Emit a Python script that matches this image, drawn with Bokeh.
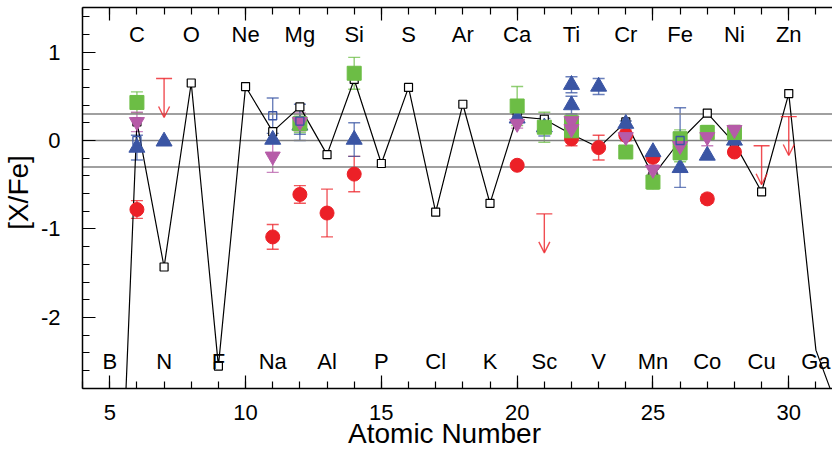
import math
from bokeh.plotting import figure
from bokeh.models import (Range1d, Whisker, TeeHead, OpenHead, Arrow, ColumnDataSource,
                          LinearAxis, SingleIntervalTicker, CustomJSTickFormatter)
from bokeh.core.properties import value
from bokeh.embed import file_html
from bokeh.resources import INLINE

FONT = "Liberation Sans"

# ---------------- data ----------------
top_z = [6, 8, 10, 12, 14, 16, 18, 20, 22, 24, 26, 28, 30]
top_names = ["C", "O", "Ne", "Mg", "Si", "S", "Ar", "Ca", "Ti", "Cr", "Fe", "Ni", "Zn"]
bot_z = [5, 7, 9, 11, 13, 15, 17, 19, 21, 23, 25, 27, 29, 31]
bot_names = ["B", "N", "F", "Na", "Al", "P", "Cl", "K", "Sc", "V", "Mn", "Co", "Cu", "Ga"]

x_ticks = [5, 10, 15, 20, 25, 30]
x_tick_labels = ["5", "10", "15", "20", "25", "30"]
y_ticks = [-2, -1, 0, 1]
y_tick_labels = ["-2", "-1", "0", "1"]

# model yields (black open squares joined by a line)
model_z = [5, 6, 7, 8, 9, 10, 11, 12, 13, 14, 15, 16, 17, 18, 19, 20, 21, 22, 23,
           24, 25, 26, 27, 28, 29, 30, 31, 32]
model_val = [-7.3, 0.21, -1.43, 0.65, -2.55, 0.61, 0.10, 0.38, -0.16, 0.69, -0.26,
             0.60, -0.81, 0.41, -0.71, 0.27, 0.24, 0.07, -0.08, 0.21, -0.40, 0.00,
             0.31, -0.03, -0.58, 0.53, -2.37, -3.2]
model_marked = [z <= 30 for z in model_z]

# green filled squares
green_z = [6, 12, 14, 20, 21, 22, 22, 24, 25, 26, 26, 27, 28]
green_val = [0.43, 0.19, 0.76, 0.39, 0.15, 0.20, 0.11, -0.13, -0.47, 0.02, -0.14, 0.09, 0.09]
green_err = [0.12, 0.10, 0.18, 0.22, 0.17, 0.08, 0.08, 0.0, 0.08, 0.10, 0.10, 0.08, 0.08]

# blue filled triangles
blue_z = [6, 7, 11, 12, 14, 20, 21, 22, 22, 23, 24, 25, 26, 27, 28]
blue_val = [-0.08, -0.01, 0.01, 0.17, 0.01, 0.25, 0.15, 0.63, 0.40, 0.61, 0.19, -0.13,
            -0.31, -0.17, 0.00]
blue_err = [0.14, 0.0, 0.0, 0.10, 0.19, 0.05, 0.10, 0.09, 0.10, 0.09, 0.03, 0.0, 0.0,
            0.0, 0.03]

# magenta inverted triangles
mag_z = [6, 11, 12, 20, 22, 22, 24, 25, 26, 27, 28]
mag_val = [0.21, -0.18, 0.21, 0.19, 0.22, 0.13, 0.04, -0.33, -0.06, 0.04, 0.12]
mag_err = [0.11, 0.18, 0.10, 0.05, 0.05, 0.05, 0.04, 0.05, 0.15, 0.10, 0.05]

# red filled circles
red_z = [6, 11, 12, 13, 14, 20, 22, 23, 24, 25, 27, 28]
red_val = [-0.78, -1.09, -0.61, -0.82, -0.38, -0.28, 0.02, -0.08, 0.06, -0.19, -0.66, -0.13]
red_err = [0.10, 0.14, 0.10, 0.27, 0.20, 0.0, 0.08, 0.14, 0.06, 0.0, 0.05, 0.0]

# red upper limits
lim_z = [7, 21, 29, 30]
lim_val = [0.70, -0.83, -0.06, 0.27]
lim_len = 0.44

# blue open squares
bsq_z = [6, 11, 12, 26]
bsq_val = [0.00, 0.28, 0.22, 0.00]
bsq_lo = [0.0, 0.20, 0.22, 0.53]
bsq_hi = [0.0, 0.20, 0.19, 0.37]

ref_lines = [0.3, 0.0, -0.3]

GREEN = "#6cbd45"
BLUE = "#3a55a4"
MAG = "#b65ba8"
RED = "#ec2027"

# ---------------- geometry (whole canvas is the plotting frame) ----------------
W, H = 832, 449
AX_X0, AX_X1 = 4.0, 31.7           # axis bounds (x)
AX_Y0, AX_Y1 = -2.8, 1.5           # axis bounds (y)
LEFT_PX = 82.1                     # canvas px of x = AX_X0
PXX = 27.16                        # px per unit of atomic number
TOP_PX = 7.3                       # canvas px of y = AX_Y1
BOTTOM_PX = 387.7                  # canvas px of y = AX_Y0
PXY = (BOTTOM_PX - TOP_PX) / (AX_Y1 - AX_Y0)
x_start = AX_X0 - LEFT_PX / PXX
x_end = x_start + W / PXX
y_end = AX_Y1 + TOP_PX / PXY
y_start = y_end - H / PXY

def xpx(c):
    return x_start + c / PXX

def ypx(c):
    return y_end - c / PXY

p = figure(width=W, height=H, x_range=Range1d(x_start, x_end), y_range=Range1d(y_start, y_end),
           output_backend="svg", toolbar_location=None, x_axis_location=None,
           y_axis_location=None, min_border=0, min_border_left=0, min_border_right=0,
           min_border_top=0, min_border_bottom=0)
p.grid.visible = False
p.outline_line_color = None
p.background_fill_color = "white"
p.border_fill_color = "white"

blank = CustomJSTickFormatter(code="return ''")

def make_axis(ticker, loc, bounds):
    ax = LinearAxis(ticker=ticker, fixed_location=loc, bounds=bounds, formatter=blank)
    ax.major_tick_in = 13
    ax.major_tick_out = 0
    ax.minor_tick_in = 7
    ax.minor_tick_out = 0
    ax.major_tick_line_color = "black"
    ax.minor_tick_line_color = "black"
    ax.major_tick_line_width = 1.2
    ax.minor_tick_line_width = 1.2
    ax.axis_line_color = "black"
    ax.axis_line_width = 1.5
    ax.major_label_text_font_size = "0px"
    ax.major_label_standoff = 0
    return ax

xt = SingleIntervalTicker(interval=5, num_minor_ticks=5)
yt = SingleIntervalTicker(interval=1, num_minor_ticks=5)
p.add_layout(make_axis(xt, AX_Y0, (AX_X0, AX_X1)), "below")
p.add_layout(make_axis(xt, AX_Y1, (AX_X0, AX_X1)), "above")
p.add_layout(make_axis(yt, AX_X0, (AX_Y0, AX_Y1)), "left")

# reference lines
p.segment(x0=[AX_X0] * len(ref_lines), x1=[AX_X1] * len(ref_lines), y0=ref_lines, y1=ref_lines,
          line_color="#808080", line_width=1.6)

def whiskers(z, lo, hi, color):
    src = ColumnDataSource(dict(x=z, lo=lo, hi=hi))
    w = Whisker(source=src, base="x", lower="lo", upper="hi", dimension="height",
                line_color=color, line_width=1.4, line_alpha=0.75,
                upper_head=TeeHead(size=12, line_color=color, line_width=1.4, line_alpha=0.75),
                lower_head=TeeHead(size=12, line_color=color, line_width=1.4, line_alpha=0.75))
    p.add_layout(w)

def sym(z, v, e):
    zz = [a for a, b in zip(z, e) if b > 0]
    lo = [a - b for a, b in zip(v, e) if b > 0]
    hi = [a + b for a, b in zip(v, e) if b > 0]
    return zz, lo, hi

whiskers(*sym(red_z, red_val, red_err), RED)
whiskers(*sym(blue_z, blue_val, blue_err), BLUE)
whiskers(*sym(green_z, green_val, green_err), GREEN)
whiskers(*sym(mag_z, mag_val, mag_err), MAG)
bz = [z for z, l in zip(bsq_z, bsq_lo) if l > 0]
blo = [v - l for v, l in zip(bsq_val, bsq_lo) if l > 0]
bhi = [v + h for v, h, l in zip(bsq_val, bsq_hi, bsq_lo) if l > 0]
whiskers(bz, blo, bhi, BLUE)

# upper limits
lim_src = ColumnDataSource(dict(x=lim_z, y0=lim_val, y1=[v - lim_len for v in lim_val]))
p.add_layout(Arrow(start=TeeHead(size=16, line_color=RED, line_width=1.4, line_alpha=0.8),
                   end=OpenHead(size=11, line_color=RED, line_width=1.4, line_alpha=0.8),
                   x_start="x", y_start="y0", x_end="x", y_end="y1", source=lim_src,
                   line_color=RED, line_width=1.4, line_alpha=0.8))

# model first (beneath the coloured markers)
p.line(model_z, model_val, line_color="black", line_width=1.2)
mz = [z for z, m in zip(model_z, model_marked) if m]
mv = [v for v, m in zip(model_val, model_marked) if m]
p.scatter(mz, mv, marker="square", size=8, fill_color="white", line_color="black", line_width=1.2)

p.scatter(red_z, red_val, marker="circle", size=14, fill_color=RED, line_color=RED)
p.scatter(blue_z, blue_val, marker="triangle", size=16, fill_color=BLUE, line_color=BLUE)
p.scatter(green_z, green_val, marker="square", size=14, fill_color=GREEN, line_color=GREEN)
p.scatter(mag_z, mag_val, marker="inverted_triangle", size=15, fill_color=MAG, line_color=MAG)
p.scatter(bsq_z, bsq_val, marker="square", size=8, fill_color=None, line_color=BLUE, line_width=1.3)

# white masks outside the axes box (the plotting frame covers the whole canvas)
p.quad(left=[x_start, x_start], right=[x_end, AX_X0], bottom=[y_start, y_start],
       top=[AX_Y0, y_end], fill_color="white", line_color=None)

# element symbols
p.text(top_z, [ypx(33.7)] * len(top_z), text=top_names, text_font=value(FONT),
       text_font_size="22px", text_align="center", text_baseline="middle", text_color="black")
p.text(bot_z, [ypx(360.5)] * len(bot_z), text=bot_names, text_font=value(FONT),
       text_font_size="22px", text_align="center", text_baseline="middle", text_color="black")

# tick labels and axis titles
p.text(x_ticks, [ypx(412)] * len(x_ticks), text=x_tick_labels, text_font=value(FONT),
       text_font_size="22px", text_align="center", text_baseline="middle", text_color="black")
p.text([xpx(60)] * len(y_ticks), y_ticks, text=y_tick_labels, text_font=value(FONT),
       text_font_size="22px", text_align="right", text_baseline="middle", text_color="black")
p.text([xpx(444)], [ypx(432.5)], text=["Atomic Number"], text_font=value(FONT),
       text_font_size="28px", text_align="center", text_baseline="middle", text_color="black")
p.text([xpx(18)], [ypx(192)], text=["[X/Fe]"], text_font=value(FONT), angle=math.pi / 2,
       text_font_size="28px", text_align="center", text_baseline="middle", text_color="black")

open("out.html", "w").write(file_html(p, INLINE))
